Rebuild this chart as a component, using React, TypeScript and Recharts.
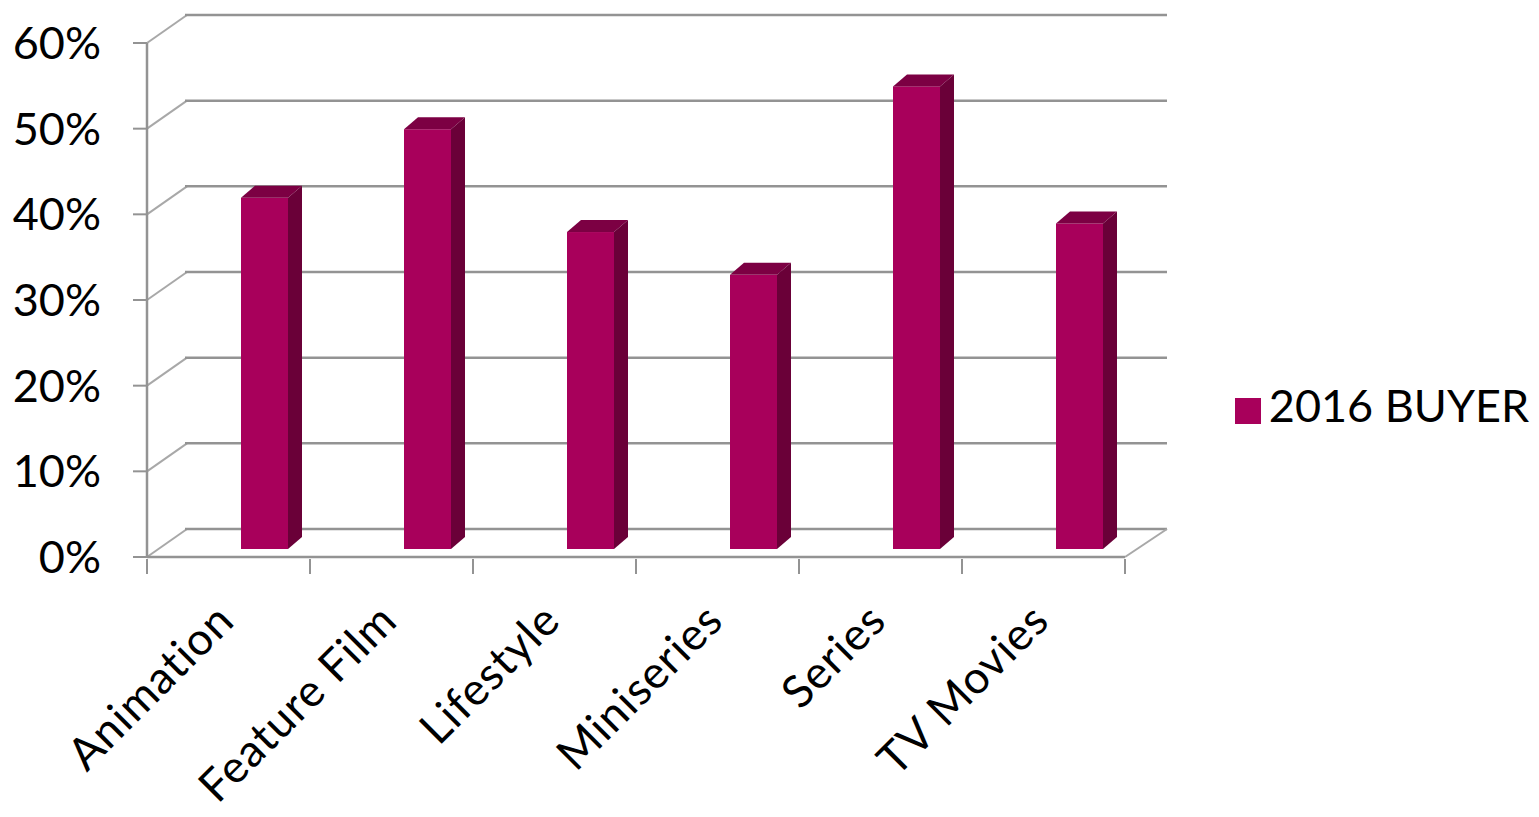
import { BarChart, Bar, XAxis, YAxis, CartesianGrid, Legend } from 'recharts';

// genre share for the 2016 buyer survey
const categories = ['Animation', 'Feature Film', 'Lifestyle', 'Miniseries', 'Series', 'TV Movies'];
const buyer2016 = [0.41, 0.49, 0.37, 0.32, 0.54, 0.38];
const yTicks = [0, 0.1, 0.2, 0.3, 0.4, 0.5, 0.6];

const data = categories.map((name, i) => ({ name, buyer: buyer2016[i] }));

const FONT = 'Lato, "Noto Sans", sans-serif';
const GRID = '#939393';
const FRONT = '#A8005B';
const TOP = '#7C0043';
const SIDE = '#6A0038';

// 3d depth of the wall / floor
const WALL_DX = 40;
const WALL_DY = 28;
// where the bar sits inside its category, and its own depth
const BAR_SHIFT_X = 36;
const BAR_SHIFT_Y = -8;
const BAR_DX = 14;
const BAR_DY = 12;

const Bar3D = (props: any) => {
  const { x, y, width, height } = props;
  const fx = x + BAR_SHIFT_X;
  const fy = y + BAR_SHIFT_Y;
  const w = width;
  const h = height;
  return (
    <g>
      <rect x={fx} y={fy} width={w} height={h} fill={FRONT} />
      <polygon
        points={`${fx},${fy} ${fx + BAR_DX},${fy - BAR_DY} ${fx + w + BAR_DX},${fy - BAR_DY} ${fx + w},${fy}`}
        fill={TOP}
      />
      <polygon
        points={`${fx + w},${fy} ${fx + w + BAR_DX},${fy - BAR_DY} ${fx + w + BAR_DX},${fy + h - BAR_DY} ${fx + w},${fy + h}`}
        fill={SIDE}
      />
    </g>
  );
};

const WallLine = (props: any) => {
  const { x1, y1, x2, index } = props;
  return (
    <g key={`wall-${index}`}>
      <line x1={x1} y1={y1} x2={x1 + WALL_DX} y2={y1 - WALL_DY} stroke="#a8a8a8" strokeWidth={2} />
      <line x1={x1 + WALL_DX - 2} y1={y1 - WALL_DY} x2={x2 + WALL_DX + 2} y2={y1 - WALL_DY} stroke={GRID} strokeWidth={2.5} />
      {index === 0 && (
        <line x1={x2} y1={y1} x2={x2 + WALL_DX + 2} y2={y1 - WALL_DY} stroke="#a8a8a8" strokeWidth={2} />
      )}
    </g>
  );
};

const CategoryTick = (props: any) => {
  const { x, y, payload, index } = props;
  const half = payload.offset ?? 81.5;
  const last = index === categories.length - 1;
  const ty = y - 6;
  const ax = x + 8;
  const ay = y + 58;
  return (
    <g>
      <line x1={x - half} y1={ty} x2={x - half} y2={ty + 15} stroke={GRID} strokeWidth={2} />
      {last && <line x1={x + half} y1={ty} x2={x + half} y2={ty + 15} stroke={GRID} strokeWidth={2} />}
      <text
        x={ax}
        y={ay}
        textAnchor="end"
        transform={`rotate(-45, ${ax}, ${ay})`}
        fontSize={45}
        letterSpacing={1}
        fontFamily={FONT}
        fill="#000"
      >
        {payload.value}
      </text>
    </g>
  );
};

export default function App() {
  return (
    <div style={{ position: 'absolute', left: 0, top: 0, background: '#fff' }}>
      <BarChart
        width={1539}
        height={817}
        data={data}
        margin={{ top: 43, right: 414, left: 0, bottom: 60 }}
      >
        <CartesianGrid vertical={false} horizontal={WallLine} />
        <XAxis
          dataKey="name"
          height={200}
          interval={0}
          tickLine={false}
          axisLine={{ stroke: GRID, strokeWidth: 2.5 }}
          tick={<CategoryTick />}
        />
        <YAxis
          width={147}
          domain={[0, 0.6]}
          ticks={yTicks}
          interval={0}
          tickFormatter={(v: number) => `${Math.round(v * 100)}%`}
          tick={{ fill: '#000', fontSize: 45, fontFamily: FONT }}
          tickSize={14}
          tickMargin={32}
          tickLine={{ stroke: GRID, strokeWidth: 2 }}
          axisLine={{ stroke: GRID, strokeWidth: 2.5 }}
        />
        <Legend
          align="center"
          verticalAlign="middle"
          iconType="square"
          iconSize={26}
          wrapperStyle={{ left: 1222, top: 378, width: 330, fontFamily: FONT, fontSize: 45 }}
          formatter={(value: string) => <span style={{ color: '#000', marginLeft: 4 }}>{value}</span>}
        />
        <Bar
          dataKey="buyer"
          name="2016 BUYER"
          fill={FRONT}
          barSize={47}
          shape={Bar3D}
          isAnimationActive={false}
        />
      </BarChart>
    </div>
  );
}
